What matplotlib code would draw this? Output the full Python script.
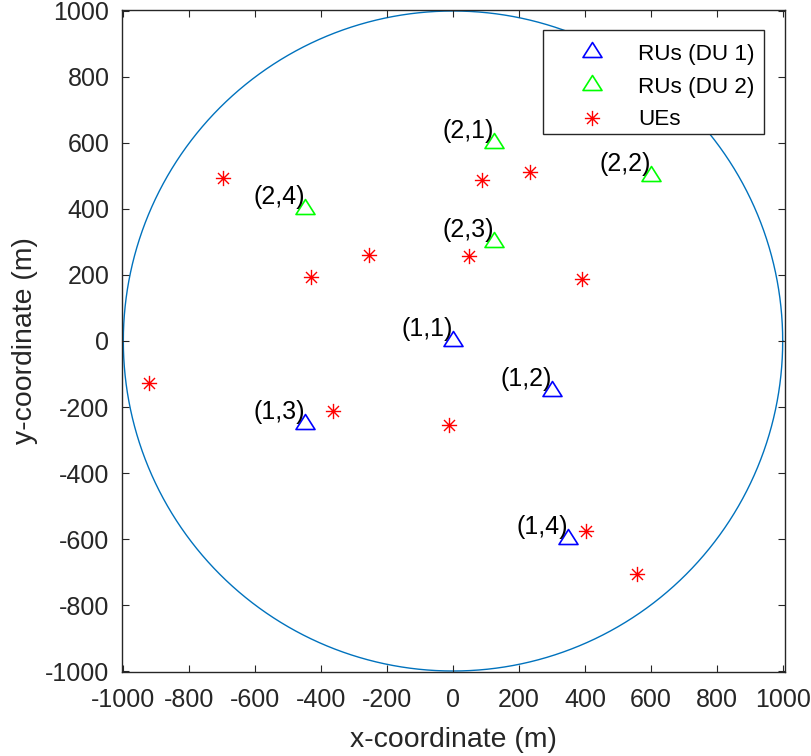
import numpy as np
import matplotlib
matplotlib.use("Agg")
import matplotlib.pyplot as plt
from matplotlib.path import Path
from matplotlib.patches import Rectangle

plt.rcParams['font.family'] = ['Liberation Sans', 'DejaVu Sans']
plt.rcParams['axes.unicode_minus'] = False

# RU positions per DU, labelled (DU, RU)
ru_du1_x = [0, 300, -450, 350]
ru_du1_y = [0, -150, -250, -600]
ru_du2_x = [125, 600, 125, -450]
ru_du2_y = [600, 500, 300, 400]
ru_du1_labels = ["(1,1)", "(1,2)", "(1,3)", "(1,4)"]
ru_du2_labels = ["(2,1)", "(2,2)", "(2,3)", "(2,4)"]

# user equipment positions
ue_x = [-697, -430, -254, -922, -363, 89, 234, 49, 392, -12, 404, 559]
ue_y = [493, 193, 260, -128, -213, 487, 512, 257, 187, -255, -577, -707]

cell_radius = 1000
ticks = list(range(-1000, 1001, 200))

GRAY = (0.15, 0.15, 0.15)
CIRCLE_BLUE = (0.0, 0.447, 0.741)
W, H = 812, 756

# triangle centred on its centroid
tri_h = 1.58
tri = Path([(-1, -tri_h / 3), (1, -tri_h / 3), (0, 2 * tri_h / 3), (-1, -tri_h / 3)],
           [Path.MOVETO, Path.LINETO, Path.LINETO, Path.CLOSEPOLY])
tri_ms = 19 * (2 * tri_h / 3) / 2 * 72 / 100 * 2 / 1.0

# eight-ray asterisk
d = 0.72
star = Path([(-1, 0), (1, 0), (0, -1), (0, 1), (-d, -d), (d, d), (-d, d), (d, -d)],
            [Path.MOVETO, Path.LINETO] * 4)

fig = plt.figure(figsize=(W / 100, H / 100), dpi=100)
ax = fig.add_axes([122 / W, 1 - 672 / H, 663 / W, 662 / H])

theta = np.linspace(0, 2 * np.pi, 721)
ax.plot(cell_radius * np.cos(theta), cell_radius * np.sin(theta),
        color=CIRCLE_BLUE, lw=1.0, zorder=1)

ax.plot(ru_du1_x, ru_du1_y, ls='none', marker=tri, ms=tri_ms,
        mfc='none', mec='blue', mew=1.2, label='RUs (DU 1)', zorder=3)
ax.plot(ru_du2_x, ru_du2_y, ls='none', marker=tri, ms=tri_ms,
        mfc='none', mec=(0, 1, 0), mew=1.2, label='RUs (DU 2)', zorder=3)
ax.plot(ue_x, ue_y, ls='none', marker=star, ms=11,
        mfc='none', mec='red', mew=1.0, label='UEs', zorder=3)

for xs, ys, labs in [(ru_du1_x, ru_du1_y, ru_du1_labels),
                     (ru_du2_x, ru_du2_y, ru_du2_labels)]:
    for x, y, s in zip(xs, ys, labs):
        ax.text(x, y, s, ha='right', va='bottom', fontsize=18, color='black')

ax.set_xlim(-1004, 1007)
ax.set_ylim(-1003, 1003)
ax.set_xticks(ticks)
ax.set_yticks(ticks)
ax.tick_params(direction='in', length=4.8, width=0.8, colors=GRAY,
               labelsize=18, top=True, right=True)
ax.tick_params(axis='x', pad=11.5)
ax.tick_params(axis='y', pad=9)
for sp in ax.spines.values():
    sp.set_color(GRAY)
    sp.set_linewidth(1.0)

ax.set_xlabel('x-coordinate (m)', fontsize=20.4, color=GRAY, labelpad=11)
ax.set_ylabel('y-coordinate (m)', fontsize=20.4, color=GRAY, labelpad=5)

# legend box drawn separately so the entries sit centred in it
box = Rectangle((543 / W, 1 - 134 / H), 221 / W, 104 / H, transform=fig.transFigure,
                facecolor='white', edgecolor=GRAY, lw=1.0, zorder=4, clip_on=False)
ax.add_patch(box)
leg = ax.legend(loc='upper right', bbox_to_anchor=((764 - 122) / 663, 1 - 25 / 662),
                borderaxespad=0, fontsize=16.2, frameon=False,
                borderpad=0.4, handlelength=3.3, handletextpad=0.4,
                labelspacing=0.52)
leg.set_zorder(5)

fig.savefig('out.png', dpi=100)
